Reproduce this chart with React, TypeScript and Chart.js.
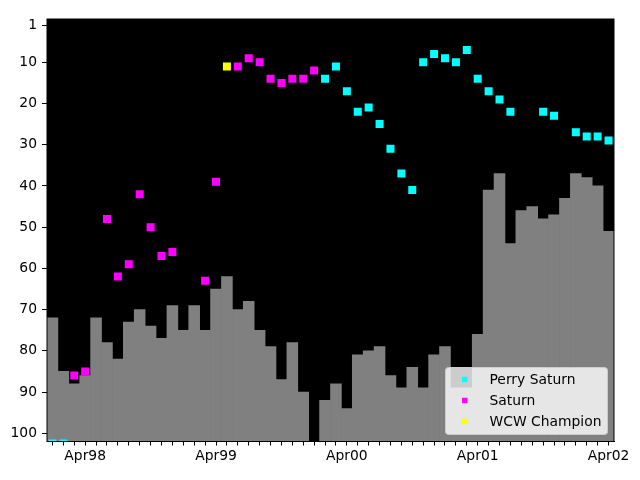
import React, { useEffect, useRef } from 'react';
import { Chart, registerables } from 'chart.js';

Chart.register(...registerables);

// Monthly categories (Jan 1998 .. Apr 2002)
const months = [
  'Jan98', 'Feb98', 'Mar98', 'Apr98', 'May98', 'Jun98', 'Jul98', 'Aug98', 'Sep98', 'Oct98', 'Nov98', 'Dec98',
  'Jan99', 'Feb99', 'Mar99', 'Apr99', 'May99', 'Jun99', 'Jul99', 'Aug99', 'Sep99', 'Oct99', 'Nov99', 'Dec99',
  'Jan00', 'Feb00', 'Mar00', 'Apr00', 'May00', 'Jun00', 'Jul00', 'Aug00', 'Sep00', 'Oct00', 'Nov00', 'Dec00',
  'Jan01', 'Feb01', 'Mar01', 'Apr01', 'May01', 'Jun01', 'Jul01', 'Aug01', 'Sep01', 'Oct01', 'Nov01', 'Dec01',
  'Jan02', 'Feb02', 'Mar02', 'Apr02',
];

// Grey background bars (monthly rank)
const barRanks: (number | null)[] = [
  72, 85, 88, 86, 72, 78, 82, 73, 70, 74, 77, 69,
  75, 69, 75, 65, 62, 70, 68, 75, 79, 87, 78, 90,
  null, 92, 88, 94, 81, 80, 79, 86, 89, 84, 89, 81,
  79, 89, 89, 76, 41, 37, 54, 46, 45, 48, 47, 43,
  37, 38, 40, 51,
];

// Perry Saturn
const perryMonths = [
  'Jan98', 'Feb98', 'Feb00', 'Mar00', 'Apr00', 'May00', 'Jun00', 'Jul00', 'Aug00', 'Sep00', 'Oct00',
  'Nov00', 'Dec00', 'Jan01', 'Feb01', 'Mar01', 'Apr01', 'May01', 'Jun01', 'Jul01', 'Oct01', 'Nov01',
  'Jan02', 'Feb02', 'Mar02', 'Apr02',
];
const perryRanks = [
  102.5, 102.5, 14, 11, 17, 22, 21, 25, 31, 37, 41,
  10, 8, 9, 10, 7, 14, 17, 19, 22, 22, 23,
  27, 28, 28, 29,
];

// Saturn
const saturnMonths = [
  'Mar98', 'Apr98', 'Jun98', 'Jul98', 'Aug98', 'Sep98', 'Oct98', 'Nov98', 'Dec98',
  'Mar99', 'Apr99', 'Jun99', 'Jul99', 'Aug99', 'Sep99', 'Oct99', 'Nov99', 'Dec99', 'Jan00',
];
const saturnRanks = [
  86, 85, 48, 62, 59, 42, 50, 57, 56,
  63, 39, 11, 9, 10, 14, 15, 14, 14, 12,
];

// WCW Champion
const wcwMonths = ['May99'];
const wcwRanks = [11];

const yTicks = [1, 10, 20, 30, 40, 50, 60, 70, 80, 90, 100];
const yMin = -0.5;
const yMax = 102;

const legendItems = [
  { label: 'Perry Saturn', color: '#00ffff' },
  { label: 'Saturn', color: '#ff00ff' },
  { label: 'WCW Champion', color: '#ffff00' },
];

const FONT = "'DejaVu Sans', sans-serif";
const FONT_SIZE = 13.89;

const bgPlugin = {
  id: 'plotBg',
  beforeDatasetsDraw(chart: any) {
    const { ctx, chartArea } = chart;
    ctx.save();
    ctx.fillStyle = '#000000';
    ctx.fillRect(chartArea.left, chartArea.top, chartArea.right - chartArea.left, chartArea.bottom - chartArea.top);
    ctx.restore();
  },
  afterDatasetsDraw(chart: any) {
    const { ctx, chartArea } = chart;
    ctx.save();
    ctx.strokeStyle = '#000000';
    ctx.lineWidth = 1;
    ctx.strokeRect(chartArea.left, chartArea.top, chartArea.right - chartArea.left, chartArea.bottom - chartArea.top);
    ctx.restore();
  },
};

const legendPlugin = {
  id: 'mplLegend',
  afterDraw(chart: any) {
    const { ctx, chartArea } = chart;
    const w = 162;
    const h = 67;
    const x0 = chartArea.right - 6.5 - w;
    const y0 = chartArea.bottom - 7 - h;
    ctx.save();
    ctx.beginPath();
    if ((ctx as any).roundRect) (ctx as any).roundRect(x0, y0, w, h, 3);
    else ctx.rect(x0, y0, w, h);
    ctx.fillStyle = 'rgba(255,255,255,0.8)';
    ctx.fill();
    ctx.strokeStyle = '#cccccc';
    ctx.lineWidth = 1;
    ctx.stroke();
    ctx.font = `${FONT_SIZE}px ${FONT}`;
    ctx.textBaseline = 'middle';
    ctx.textAlign = 'left';
    legendItems.forEach((it, i) => {
      const cy = y0 + 12 + i * 21;
      ctx.fillStyle = it.color;
      ctx.fillRect(x0 + 16.5, cy - 2.75, 5.5, 5.5);
      ctx.fillStyle = '#000000';
      ctx.fillText(it.label, x0 + 44, cy + 1);
    });
    ctx.restore();
  },
};

function pointSet(label: string, ms: string[], vs: number[], color: string) {
  return {
    type: 'line' as const,
    label,
    data: ms.map((m, i) => ({ x: m, y: vs[i] })),
    showLine: false,
    pointStyle: 'rect',
    pointRadius: 5.66,
    pointHoverRadius: 5.66,
    pointBorderWidth: 0,
    borderWidth: 0,
    backgroundColor: color,
    borderColor: color,
    clip: 0,
    order: 0,
  };
}

export default function App() {
  const ref = useRef<HTMLCanvasElement | null>(null);

  useEffect(() => {
    if (!ref.current) return;
    const chart = new Chart(ref.current, {
      type: 'bar',
      data: {
        labels: months,
        datasets: [
          pointSet('Perry Saturn', perryMonths, perryRanks, '#00ffff'),
          pointSet('Saturn', saturnMonths, saturnRanks, '#ff00ff'),
          pointSet('WCW Champion', wcwMonths, wcwRanks, '#ffff00'),
          {
            type: 'bar' as const,
            label: 'rank',
            data: barRanks.map((v) => (v == null ? null : [v, yMax])) as any,
            backgroundColor: '#808080',
            borderWidth: 0,
            categoryPercentage: 1,
            barPercentage: 1,
            order: 10,
          } as any,
        ],
      },
      options: {
        responsive: false,
        animation: false,
        events: [],
        layout: { padding: { left: 0, top: 19, right: 26, bottom: 0 } },
        font: { family: FONT, size: FONT_SIZE },
        plugins: {
          legend: { display: false },
          tooltip: { enabled: false },
        },
        scales: {
          x: {
            type: 'category',
            offset: true,
            grid: {
              display: true,
              offset: false,
              drawOnChartArea: false,
              drawTicks: true,
              tickLength: 4,
              color: '#000000',
            },
            border: { display: true, color: '#000000', width: 1 },
            ticks: {
              autoSkip: false,
              maxRotation: 0,
              minRotation: 0,
              padding: 3,
              color: '#000000',
              font: { family: FONT, size: FONT_SIZE },
              callback: (_v: any, i: number) => (months[i].startsWith('Apr') ? months[i] : ''),
            },
            afterFit: (s: any) => {
              s.height = 38.5;
            },
          },
          y: {
            type: 'linear',
            reverse: true,
            min: yMin,
            max: yMax,
            grid: {
              display: true,
              drawOnChartArea: false,
              drawTicks: true,
              tickLength: 5,
              color: '#000000',
            },
            border: { display: true, color: '#000000', width: 1 },
            ticks: {
              padding: 5,
              color: '#000000',
              font: { family: FONT, size: FONT_SIZE },
            },
            afterBuildTicks: (s: any) => {
              s.ticks = yTicks.map((v) => ({ value: v }));
            },
            afterFit: (s: any) => {
              s.width = 47;
            },
          },
        },
      } as any,
      plugins: [bgPlugin, legendPlugin],
    });
    return () => chart.destroy();
  }, []);

  return (
    <div style={{ position: 'fixed', left: 0, top: 0, width: 640, height: 480, background: '#ffffff' }}>
      <canvas ref={ref} width={640} height={480} style={{ display: 'block', width: 640, height: 480 }} />
    </div>
  );
}
